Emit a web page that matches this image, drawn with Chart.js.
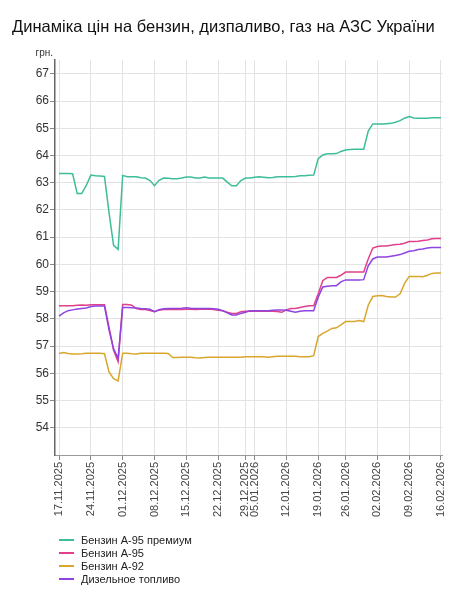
<!DOCTYPE html>
<html>
<head>
<meta charset="utf-8">
<title>Динаміка цін на пальне</title>
<script src="https://cdn.jsdelivr.net/npm/chart.js@4.4.1/dist/chart.umd.min.js"></script>
<style>
  body { margin: 0; background: #fff; }
  #wrap { position: relative; width: 476px; height: 600px; }
  #legend {
    position: absolute; left: 59px; top: 533px;
    font: 11px "Liberation Sans", Arial, sans-serif; color: #222;
  }
  #legend .item { height: 13px; display: flex; align-items: center; }
  #legend .swatch { width: 15px; height: 2px; margin-right: 7px; }
</style>
</head>
<body>
<div id="wrap">
  <canvas id="fuelChart" width="476" height="600"></canvas>
  <div id="legend"></div>
</div>
<script>
// --- data ---
const chartTitle = 'Динаміка цін на бензин, дизпаливо, газ на АЗС України';
const unit = 'грн.';

const dates = [
  '17.11.2025', '18.11.2025', '19.11.2025', '20.11.2025', '21.11.2025', '22.11.2025', '23.11.2025',
  '24.11.2025', '25.11.2025', '26.11.2025', '27.11.2025', '28.11.2025', '29.11.2025', '30.11.2025',
  '01.12.2025', '02.12.2025', '03.12.2025', '04.12.2025', '05.12.2025', '06.12.2025', '07.12.2025',
  '08.12.2025', '09.12.2025', '10.12.2025', '11.12.2025', '12.12.2025', '13.12.2025', '14.12.2025',
  '15.12.2025', '16.12.2025', '17.12.2025', '18.12.2025', '19.12.2025', '20.12.2025', '21.12.2025',
  '22.12.2025', '23.12.2025', '24.12.2025', '26.12.2025', '27.12.2025', '28.12.2025',
  '29.12.2025', '30.12.2025',
  '05.01.2026', '06.01.2026', '07.01.2026', '08.01.2026', '09.01.2026', '10.01.2026', '11.01.2026',
  '12.01.2026', '13.01.2026', '14.01.2026', '15.01.2026', '16.01.2026', '17.01.2026', '18.01.2026',
  '19.01.2026', '20.01.2026', '21.01.2026', '22.01.2026', '23.01.2026', '24.01.2026',
  '26.01.2026', '27.01.2026', '28.01.2026', '29.01.2026', '30.01.2026', '31.01.2026', '01.02.2026',
  '02.02.2026', '03.02.2026', '04.02.2026', '05.02.2026', '06.02.2026', '07.02.2026', '08.02.2026',
  '09.02.2026', '10.02.2026', '11.02.2026', '12.02.2026', '13.02.2026', '14.02.2026', '15.02.2026',
  '16.02.2026'
];

const tickLabels = [
  '17.11.2025', '24.11.2025', '01.12.2025', '08.12.2025', '15.12.2025', '22.12.2025', '29.12.2025',
  '05.01.2026', '12.01.2026', '19.01.2026', '26.01.2026', '02.02.2026', '09.02.2026', '16.02.2026'
];
const yTicks = [54, 55, 56, 57, 58, 59, 60, 61, 62, 63, 64, 65, 66, 67];

const a95premium = [
  63.34, 63.34, 63.34, 63.33, 62.6, 62.6, 62.9,
  63.28, 63.26, 63.25, 63.23, 61.9, 60.7, 60.55,
  63.27, 63.22, 63.22, 63.22, 63.18, 63.17, 63.08,
  62.89, 63.09, 63.17, 63.16, 63.15, 63.15, 63.17,
  63.21, 63.21, 63.17, 63.17, 63.21, 63.17, 63.17,
  63.17, 63.17, 63.02, 62.89, 62.89, 63.08,
  63.17, 63.17,
  63.2, 63.22, 63.2, 63.18, 63.19, 63.22, 63.22,
  63.22, 63.22, 63.23, 63.26, 63.26, 63.27, 63.28,
  63.88, 64.02, 64.06, 64.06, 64.07, 64.15,
  64.2, 64.22, 64.23, 64.23, 64.23, 64.9, 65.16,
  65.16, 65.16, 65.17, 65.18, 65.22, 65.28, 65.37,
  65.43, 65.38, 65.37, 65.37, 65.37, 65.39, 65.39,
  65.39
];

const a95 = [
  58.48, 58.48, 58.48, 58.48, 58.5, 58.51, 58.5,
  58.52, 58.52, 58.52, 58.52, 57.7, 56.85, 56.43,
  58.53, 58.53, 58.5, 58.38, 58.34, 58.34, 58.31,
  58.26, 58.32, 58.34, 58.34, 58.34, 58.34, 58.34,
  58.35, 58.35, 58.34, 58.35, 58.36, 58.35, 58.34,
  58.32, 58.3, 58.24, 58.2, 58.2, 58.26,
  58.28, 58.28,
  58.28, 58.28, 58.28, 58.28, 58.28, 58.27, 58.24,
  58.33, 58.38, 58.38, 58.42, 58.45, 58.48, 58.48,
  58.92, 59.4, 59.52, 59.52, 59.52, 59.6,
  59.72, 59.72, 59.72, 59.72, 59.72, 60.2, 60.6,
  60.66, 60.68, 60.68, 60.7, 60.73, 60.74, 60.78,
  60.84, 60.84, 60.85, 60.88, 60.9, 60.94, 60.95,
  60.95
];

const a92 = [
  56.73, 56.76, 56.73, 56.71, 56.71, 56.72, 56.74,
  56.74, 56.74, 56.74, 56.72, 56.05, 55.8, 55.72,
  56.74, 56.74, 56.72, 56.71, 56.74, 56.74, 56.74,
  56.74, 56.74, 56.74, 56.73, 56.58, 56.58, 56.59,
  56.59, 56.59, 56.57, 56.56, 56.58, 56.59, 56.59,
  56.59, 56.59, 56.59, 56.59, 56.59, 56.59,
  56.61, 56.61,
  56.61, 56.61, 56.61, 56.59, 56.61, 56.63, 56.63,
  56.63, 56.63, 56.63, 56.61, 56.61, 56.61, 56.65,
  57.35, 57.47, 57.55, 57.65, 57.67, 57.78,
  57.9, 57.9, 57.9, 57.94, 57.9, 58.5, 58.82,
  58.85, 58.86, 58.82, 58.8, 58.8, 58.92, 59.3,
  59.56, 59.56, 59.56, 59.55, 59.6, 59.67, 59.68,
  59.68
];

const diesel = [
  58.1, 58.22, 58.3, 58.33, 58.36, 58.38, 58.4,
  58.45, 58.47, 58.47, 58.47, 57.6, 56.9, 56.55,
  58.42, 58.42, 58.41, 58.4, 58.38, 58.37, 58.35,
  58.26, 58.34, 58.37, 58.38, 58.38, 58.38, 58.39,
  58.41, 58.39, 58.38, 58.38, 58.38, 58.38, 58.37,
  58.35, 58.3, 58.22, 58.14, 58.14, 58.2,
  58.24, 58.3,
  58.3, 58.3, 58.3, 58.3, 58.32, 58.33, 58.33,
  58.32, 58.28, 58.24, 58.28, 58.3, 58.3, 58.3,
  58.8, 59.17, 59.2, 59.22, 59.22, 59.36,
  59.43, 59.43, 59.43, 59.43, 59.44, 59.95, 60.2,
  60.27, 60.27, 60.27, 60.3, 60.33, 60.36, 60.42,
  60.48, 60.5, 60.55, 60.57, 60.6, 60.62, 60.62,
  60.62
];

const seriesNames = ['Бензин А-95 премиум', 'Бензин А-95', 'Бензин А-92', 'Дизельное топливо'];
const seriesColors = ['#3dbd99', '#e0408a', '#d9a62e', '#8e44e0'];

// --- chart ---
const FONT = '"Liberation Sans", Arial, sans-serif';
const tickIdx = tickLabels.map(d => dates.indexOf(d));
const toPoints = values => values.map((v, i) => ({ x: i, y: v }));

function makeDataset(values, i) {
  return {
    label: seriesNames[i],
    data: toPoints(values),
    borderColor: seriesColors[i],
    backgroundColor: seriesColors[i],
    borderWidth: 1.5,
    pointRadius: 0,
    tension: 0,
    order: i === 3 ? 0 : i + 1
  };
}

const unitLabel = {
  id: 'unitLabel',
  afterDraw(chart) {
    const { ctx, chartArea } = chart;
    ctx.save();
    ctx.font = '10px ' + FONT;
    ctx.fillStyle = '#333';
    ctx.textAlign = 'right';
    ctx.textBaseline = 'middle';
    ctx.fillText(unit, chartArea.left - 2, chartArea.top - 7);
    ctx.restore();
  }
};

const ctx = document.getElementById('fuelChart').getContext('2d');
const chart = new Chart(ctx, {
  type: 'line',
  data: {
    datasets: [a95premium, a95, a92, diesel].map(makeDataset)
  },
  options: {
    responsive: false,
    animation: false,
    layout: { padding: { left: 12, right: 33.5, top: 0, bottom: 80 } },
    plugins: {
      legend: { display: false },
      tooltip: { enabled: false },
      title: {
        display: true,
        text: chartTitle,
        align: 'start',
        color: '#111',
        font: { family: FONT, size: 16.5, weight: 'normal' },
        padding: { top: 18, bottom: 22.4 }
      }
    },
    scales: {
      x: {
        type: 'linear',
        min: -0.88,
        max: 84.33,
        afterBuildTicks: scale => { scale.ticks = tickIdx.map(v => ({ value: v })); },
        afterFit: scale => { scale.height = 65; },
        grid: { color: '#e3e3e3', tickColor: '#888', tickLength: 5 },
        border: { color: '#999', width: 1 },
        ticks: {
          autoSkip: false,
          minRotation: 90,
          maxRotation: 90,
          padding: 2,
          color: '#444',
          font: { family: FONT, size: 11 },
          callback: value => dates[value]
        }
      },
      y: {
        min: 53,
        max: 67.5,
        afterBuildTicks: scale => { scale.ticks = yTicks.map(v => ({ value: v })); },
        afterFit: scale => { scale.width = 43; },
        grid: { color: '#e3e3e3', tickColor: '#888', tickLength: 5 },
        border: { color: '#666', width: 1.5 },
        ticks: {
          padding: 1,
          color: '#333',
          font: { family: FONT, size: 12 }
        }
      }
    }
  },
  plugins: [unitLabel]
});

// legend as a simple list under the chart
const legendBox = document.getElementById('legend');
chart.data.datasets.forEach(ds => {
  const item = document.createElement('div');
  item.className = 'item';
  item.innerHTML = '<span class="swatch" style="background:' + ds.borderColor + '"></span>' + ds.label;
  legendBox.appendChild(item);
});
</script>
</body>
</html>
